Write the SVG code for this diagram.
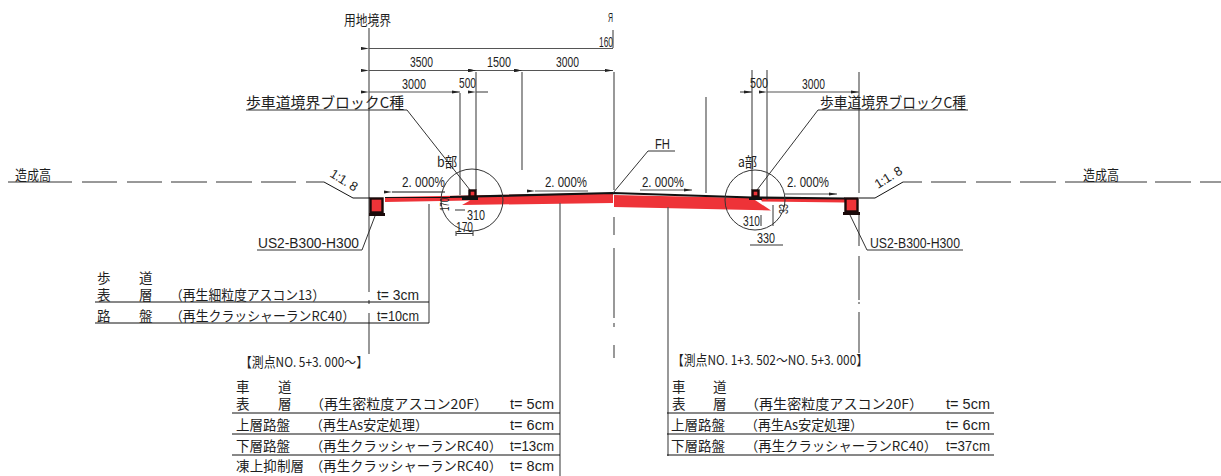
<svg xmlns="http://www.w3.org/2000/svg" width="1221" height="476" viewBox="0 0 1221 476">
<style>
text{font-family:"Noto Sans CJK JP","Liberation Sans",sans-serif;fill:#1e1e1e;font-size:13.5px}
.n{font-family:"Liberation Sans","Noto Sans CJK JP",sans-serif;font-size:14px}
.s{font-family:"Liberation Sans",sans-serif;font-size:13px}
.l{fill:none;stroke:#333;stroke-width:1}
.g{fill:none;stroke:#555;stroke-width:1.2}
.b{fill:none;stroke:#111;stroke-width:1}
.k{fill:none;stroke:#111;stroke-width:2.2}
.r{fill:#ee3338;stroke:none}
.m{fill:#ee3338;stroke:#1a0a0a;stroke-width:2.4}
.a{fill:#222;stroke:none}
</style>
<defs>
<marker id="ah" viewBox="0 0 8 4" refX="0" refY="2" markerWidth="8" markerHeight="4" orient="auto-start-reverse" markerUnits="userSpaceOnUse"><path d="M0 2L8 0.4V3.6Z" class="a"/></marker>
<marker id="ae" viewBox="0 0 8 4" refX="8" refY="2" markerWidth="8" markerHeight="4" orient="auto" markerUnits="userSpaceOnUse"><path d="M8 2L0 0.4V3.6Z" class="a"/></marker>
</defs>

<g id="pavement">
<polygon class="r" points="385,197 613,193 613,203 462,205 470,200.500 385,202"/>
<polygon class="r" points="614,195 752,198 771,210.500 614,207"/>
<polygon class="r" points="760,198 845,199 845,202.500 762,201.500"/>
</g>

<g id="connectors">
<path class="g" d="M369 28V292M369 300V304M369 313V354"/>
<path class="g" d="M429 204V323M460 93V195M476 72V190M522 72V170M560 203V476M668 207V456M706 97V193M752 70V190M767 70V200"/>
<path class="g" d="M859 72V193M859 212V246M859 256V300M859 302V304M859 312V353"/>
<path class="g" stroke-width="1.5" d="M613 30V48M614 72V190M614 217V235M614 248V318M614 323V327M614 345V358"/>
<path class="l" d="M8 182H72M82 182H117M127 182H162M171 182H207M216 182H252M261 182H296M306 182H324"/>
<path class="l" d="M903 182H922M931 182H966M976 182H1011M1020 182H1056M1065 182H1147M1155 182H1191M1200 182H1221"/>
<path class="b" stroke-width="1.2" d="M324 182L353 198H370"/>
<path class="b" stroke-width="1.2" d="M859 198H875L903 182"/>
<path class="k" d="M450 197L613 193L752 197.500L845 198.500"/>
<path class="b" stroke-width="1.500" d="M385 197.500H450"/>
<path class="g" marker-start="url(#ah)" d="M369 48.500H613"/>
<path class="g" marker-start="url(#ah)" marker-end="url(#ae)" d="M369 70.500H476"/>
<path class="g" marker-start="url(#ah)" marker-end="url(#ae)" d="M476 70.500H522"/>
<path class="g" marker-start="url(#ah)" marker-end="url(#ae)" d="M522 70.500H613"/>
<path class="g" marker-start="url(#ah)" marker-end="url(#ae)" d="M369 92H460"/>
<path class="g" marker-start="url(#ah)" d="M476 92H488"/>
<path class="g" marker-end="url(#ae)" d="M740 92H752"/>
<path class="g" marker-start="url(#ah)" marker-end="url(#ae)" d="M767 92H859"/>
<path class="b" marker-start="url(#ah)" d="M392 192H445"/>
<path class="g" marker-start="url(#ah)" d="M535 191H588"/>
<path class="g" marker-end="url(#ae)" d="M640 190H692"/>
<path class="g" marker-end="url(#ae)" d="M785 194H837"/>
<path class="l" d="M246 110H407L470 190"/>
<path class="l" d="M968 110H818L757 190"/>
<path class="l" d="M257 250H362L375 216"/>
<path class="l" d="M963 250H867L850 215"/>
<path class="l" d="M675 151H648L613 193"/>
<path class="l" d="M750 245H783M761 226V215M773 226V205"/>
<path class="l" d="M456 233.500H473M456 231V236M473 231V236M455 210H465"/>
</g>

<g id="block-left"><rect class="m" x="370.500" y="198.500" width="12" height="14"/><rect x="369" y="213" width="16" height="3" fill="#1a0a0a"/></g>
<g id="block-right"><rect class="m" x="845.500" y="198.500" width="12" height="13"/><rect x="843" y="212" width="17" height="3" fill="#1a0a0a"/></g>
<g id="curb-left"><rect class="m" x="469.500" y="190.500" width="6" height="6" stroke-width="1.500"/><rect x="462" y="197" width="16" height="3" fill="#111"/></g>
<g id="curb-right"><rect class="m" x="752.500" y="190.500" width="6" height="6" stroke-width="1.500"/><rect x="749" y="197" width="13" height="3" fill="#111"/></g>
<circle id="detail-b" class="l" cx="472" cy="200" r="31"/>
<circle id="detail-a" class="l" cx="755" cy="200" r="30"/>

<g id="labels-top">
<text x="344" y="25" textLength="47" lengthAdjust="spacingAndGlyphs">用地境界</text>
<text x="608" y="22" class="s" textLength="5" lengthAdjust="spacingAndGlyphs">Я</text>
<text x="599" y="47" class="n" textLength="14" lengthAdjust="spacingAndGlyphs">160</text>
<text x="410" y="67" class="n" textLength="23" lengthAdjust="spacingAndGlyphs">3500</text>
<text x="487" y="67" class="n" textLength="24" lengthAdjust="spacingAndGlyphs">1500</text>
<text x="556" y="67" class="n" textLength="23" lengthAdjust="spacingAndGlyphs">3000</text>
<text x="402" y="89" class="n" textLength="24" lengthAdjust="spacingAndGlyphs">3000</text>
<text x="459" y="88" class="n" textLength="17" lengthAdjust="spacingAndGlyphs">500</text>
<text x="750" y="88" class="n" textLength="18" lengthAdjust="spacingAndGlyphs">500</text>
<text x="802" y="89" class="n" textLength="23" lengthAdjust="spacingAndGlyphs">3000</text>
<text x="246" y="108" textLength="158" lengthAdjust="spacingAndGlyphs" style="font-size:15px">歩車道境界ブロックC種</text>
<text x="820" y="108" textLength="146" lengthAdjust="spacingAndGlyphs" style="font-size:15px">歩車道境界ブロックC種</text>
<text x="655" y="149" class="n" textLength="15" lengthAdjust="spacingAndGlyphs" style="font-size:15px">FH</text>
<text x="437" y="167" textLength="20" lengthAdjust="spacingAndGlyphs">b部</text>
<text x="738" y="167" textLength="19" lengthAdjust="spacingAndGlyphs">a部</text>
<text x="15" y="180" textLength="36" lengthAdjust="spacingAndGlyphs">造成高</text>
<text x="1083" y="180" textLength="36" lengthAdjust="spacingAndGlyphs">造成高</text>
<text x="402" y="187" class="n" textLength="43" lengthAdjust="spacingAndGlyphs">2. 000%</text>
<text x="545" y="187" class="n" textLength="42" lengthAdjust="spacingAndGlyphs">2. 000%</text>
<text x="642" y="187" class="n" textLength="42" lengthAdjust="spacingAndGlyphs">2. 000%</text>
<text x="787" y="187" class="n" textLength="42" lengthAdjust="spacingAndGlyphs">2. 000%</text>
<text transform="translate(329 176) rotate(32)" class="s" textLength="30" lengthAdjust="spacing">1:1. 8</text>
<text transform="translate(878 189) rotate(-32)" class="s" textLength="30" lengthAdjust="spacing">1:1. 8</text>
<text transform="translate(449 211) rotate(-90)" class="s" textLength="13" lengthAdjust="spacingAndGlyphs">170</text>
<text x="467" y="220" class="n" textLength="18" lengthAdjust="spacingAndGlyphs">310</text>
<text x="456" y="232" class="n" textLength="17" lengthAdjust="spacingAndGlyphs">170</text>
<text x="743" y="226" class="n" textLength="17" lengthAdjust="spacingAndGlyphs">310</text>
<text x="757" y="243" class="n" textLength="18" lengthAdjust="spacingAndGlyphs">330</text>
<text transform="translate(788 214) rotate(-90)" class="s" textLength="10" lengthAdjust="spacingAndGlyphs">33</text>
<text x="258" y="248" class="n" textLength="101" lengthAdjust="spacingAndGlyphs" style="font-size:15px">US2-B300-H300</text>
<text x="870" y="248" class="n" textLength="90" lengthAdjust="spacingAndGlyphs" style="font-size:15px">US2-B300-H300</text>
</g>

<g id="table-left">
<path class="b" d="M95 302H429M95 323H429"/>
<text x="97" y="283">歩</text><text x="139" y="283">道</text>
<text x="97" y="300">表</text><text x="139" y="300">層</text>
<text x="170" y="300" textLength="155" lengthAdjust="spacingAndGlyphs">（再生細粒度アスコン13）</text>
<text x="377" y="300" class="n" textLength="42" lengthAdjust="spacingAndGlyphs">t= 3cm</text>
<text x="97" y="321">路</text><text x="139" y="321">盤</text>
<text x="170" y="321" textLength="185" lengthAdjust="spacingAndGlyphs">（再生クラッシャーランRC40）</text>
<text x="377" y="321" class="n" textLength="42" lengthAdjust="spacingAndGlyphs">t=10cm</text>
</g>

<g id="table-center">
<path class="b" d="M232 413H560M232 434H560M232 455H560"/>
<text x="240" y="367" textLength="128" lengthAdjust="spacingAndGlyphs">【測点NO. 5+3. 000～】</text>
<text x="236" y="392">車</text><text x="278" y="392">道</text>
<text x="236" y="409">表</text><text x="278" y="409">層</text>
<text x="310" y="409" textLength="178" lengthAdjust="spacingAndGlyphs">（再生密粒度アスコン20F）</text>
<text x="510" y="409" class="n" textLength="44" lengthAdjust="spacingAndGlyphs">t= 5cm</text>
<text x="236" y="430" textLength="54" lengthAdjust="spacing">上層路盤</text>
<text x="310" y="430" textLength="118" lengthAdjust="spacingAndGlyphs">（再生As安定処理）</text>
<text x="510" y="430" class="n" textLength="44" lengthAdjust="spacingAndGlyphs">t= 6cm</text>
<text x="236" y="451" textLength="54" lengthAdjust="spacing">下層路盤</text>
<text x="310" y="451" textLength="192" lengthAdjust="spacingAndGlyphs">（再生クラッシャーランRC40）</text>
<text x="510" y="451" class="n" textLength="44" lengthAdjust="spacingAndGlyphs">t=13cm</text>
<text x="236" y="471" textLength="68" lengthAdjust="spacing">凍上抑制層</text>
<text x="310" y="471" textLength="192" lengthAdjust="spacingAndGlyphs">（再生クラッシャーランRC40）</text>
<text x="510" y="471" class="n" textLength="44" lengthAdjust="spacingAndGlyphs">t= 8cm</text>
</g>

<g id="table-right">
<path class="b" d="M667 413H994M667 434H994M667 455H994"/>
<text x="672" y="365" textLength="196" lengthAdjust="spacingAndGlyphs">【測点NO. 1+3. 502～NO. 5+3. 000】</text>
<text x="672" y="392">車</text><text x="713" y="392">道</text>
<text x="672" y="409">表</text><text x="713" y="409">層</text>
<text x="745" y="409" textLength="178" lengthAdjust="spacingAndGlyphs">（再生密粒度アスコン20F）</text>
<text x="946" y="409" class="n" textLength="44" lengthAdjust="spacingAndGlyphs">t= 5cm</text>
<text x="671" y="430" textLength="54" lengthAdjust="spacing">上層路盤</text>
<text x="745" y="430" textLength="118" lengthAdjust="spacingAndGlyphs">（再生As安定処理）</text>
<text x="946" y="430" class="n" textLength="44" lengthAdjust="spacingAndGlyphs">t= 6cm</text>
<text x="671" y="451" textLength="54" lengthAdjust="spacing">下層路盤</text>
<text x="745" y="451" textLength="192" lengthAdjust="spacingAndGlyphs">（再生クラッシャーランRC40）</text>
<text x="946" y="451" class="n" textLength="44" lengthAdjust="spacingAndGlyphs">t=37cm</text>
</g>
</svg>
